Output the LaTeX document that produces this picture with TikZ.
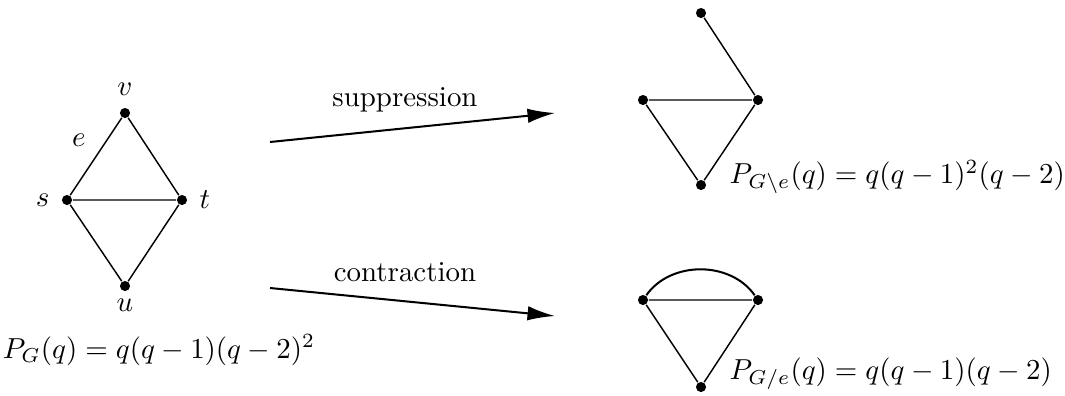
\documentclass[tikz,border=0pt]{standalone}
\usetikzlibrary{arrows.meta,positioning}
\tikzset{
    vertex/.style={circle, fill=black, inner sep=0pt, minimum size=3.5pt},
    maparrow/.style={line width=0.7pt, -{Latex[length=9.5pt,width=5pt]}},
}

\begin{document}
\begin{tikzpicture}[x=0.346pt, y=-0.346pt, line width=0.5pt, label distance=0.5pt]
    \useasboundingbox (0,0) rectangle (1065,395);

    % graph G
    \node[vertex, label={above:$v$}] (v) at (125,113) {};
    \node[vertex, label={left:$s$}] (s) at (67,200) {};
    \node[vertex, label={right:$t$}] (t) at (182,200) {};
    \node[vertex, label={[label distance=-1pt]below:$u$}] (u) at (125,286) {};
    \draw (s) -- node[above left] {$e$} (v);
    \draw (v) -- (t) -- (s) -- (u) -- (t);
    \node (PG) at (159,350) {$P_G(q) = q(q-1)(q-2)^2$};

    % arrows
    \coordinate (a1) at (270,142);
    \coordinate (b1) at (555,113);
    \coordinate (a2) at (270,288);
    \coordinate (b2) at (555,316);
    \draw[maparrow] (a1) -- (b1);
    \draw[maparrow] (a2) -- (b2);
    \node (sup) at (405,100) {suppression};
    \node (con) at (405,272) {contraction};

    % G \ e
    \node[vertex] (v1) at (701,13) {};
    \node[vertex] (s1) at (643,100) {};
    \node[vertex] (t1) at (758,100) {};
    \node[vertex] (u1) at (701,185) {};
    \draw (v1) -- (t1) -- (s1) -- (u1) -- (t1);
    \node[anchor=west, inner sep=0pt] (Pdel) at (729,177) {$P_{G\backslash e}(q) = q(q-1)^2(q-2)$};

    % G / e
    \node[vertex] (s2) at (643,300) {};
    \node[vertex] (t2) at (758,300) {};
    \node[vertex] (u2) at (701,387) {};
    \draw (s2) -- (t2) -- (u2) -- (s2);
    \draw[line width=0.7pt] (s2) to[bend left=55] (t2);
    \node[anchor=west, inner sep=0pt] (Pcon) at (729,374) {$P_{G/e}(q) = q(q-1)(q-2)$};
\end{tikzpicture}
\end{document}
